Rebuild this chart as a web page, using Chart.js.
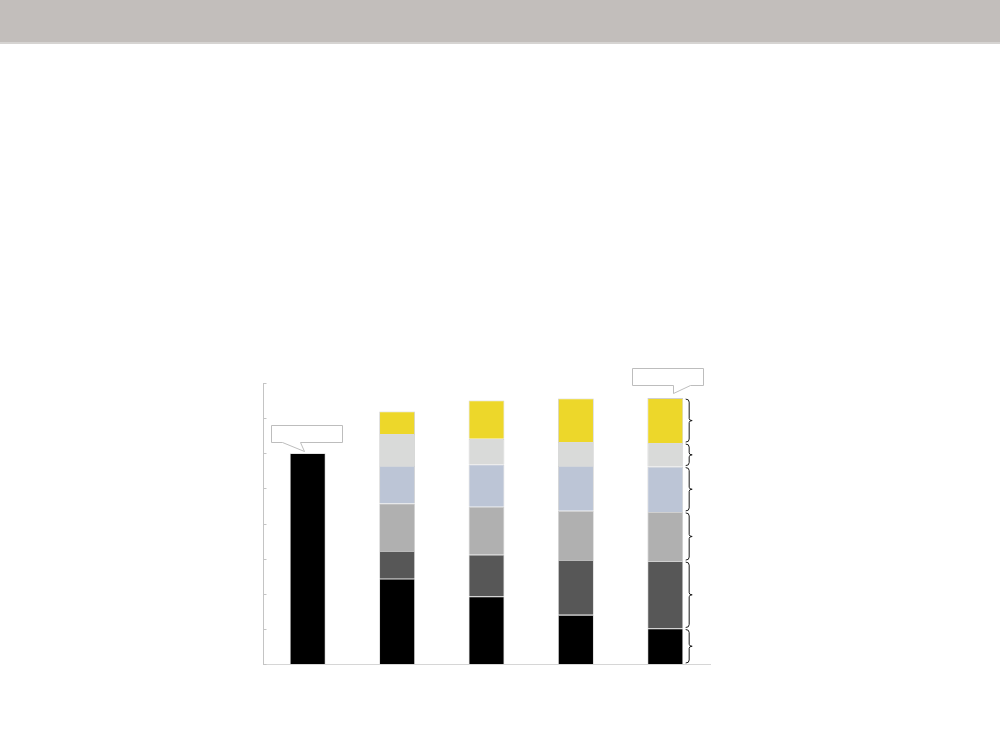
<!DOCTYPE html>
<html>
<head>
<meta charset="utf-8">
<script src="https://cdn.jsdelivr.net/npm/chart.js@4/dist/chart.umd.min.js"></script>
<style>
  html, body { margin: 0; padding: 0; background: #fff; }
  body { width: 1000px; height: 750px; position: relative; overflow: hidden; font-family: "Open Sans", sans-serif; }
  .topbar { position: absolute; left: 0; top: 0; width: 1000px; height: 42px; background: #c2bebb; border-bottom: 2px solid #d6d4d2; }
  #wrap { position: absolute; left: 0; top: 0; width: 1000px; height: 750px; }
</style>
</head>
<body>
<div class="topbar"></div>
<div id="wrap"><canvas id="stackChart"></canvas></div>
<script>
/* ── Data ─────────────────────────────────────── */
const categories = ['Base', 'Step 1', 'Step 2', 'Step 3', 'Step 4'];
const yTicks     = [0, 1, 2, 3, 4, 5, 6, 7, 8];

const segBase   = [6.00, 2.43, 1.92, 1.40, 1.01];
const segDark   = [null, 0.79, 1.19, 1.56, 1.92];
const segMid    = [null, 1.35, 1.37, 1.40, 1.40];
const segBlue   = [null, 1.07, 1.20, 1.28, 1.29];
const segLight  = [null, 0.91, 0.73, 0.68, 0.67];
const segYellow = [null, 0.64, 1.09, 1.24, 1.28];

/* ── Palette ──────────────────────────────────── */
const C_BLACK  = '#000000';
const C_DARK   = '#575757';
const C_MID    = '#b0b0b0';
const C_BLUE   = '#bcc5d6';
const C_LIGHT  = '#d9dad9';
const C_YELLOW = '#edd72a';
const C_AXIS   = '#c4c4c4';
const C_EDGE   = '#cfcfcf';

function seg(data, color) {
  return {
    data,
    backgroundColor: color,
    borderColor: C_EDGE,
    borderWidth: 0.8,
    barPercentage: 0.4,
    categoryPercentage: 1,
  };
}

/* ── Inward ticks on y axis ───────────────────── */
const innerTicks = {
  id: 'innerTicks',
  afterDraw(chart) {
    const { ctx, chartArea, scales: { y } } = chart;
    ctx.save();
    ctx.strokeStyle = C_AXIS;
    ctx.lineWidth = 1;
    yTicks.forEach(v => {
      const py = Math.round(y.getPixelForValue(v)) + 0.5;
      ctx.beginPath();
      ctx.moveTo(chartArea.left, py);
      ctx.lineTo(chartArea.left + 3.5, py);
      ctx.stroke();
    });
    ctx.restore();
  },
};

/* ── Curly braces beside the last bar ─────────── */
const braces = {
  id: 'braces',
  afterDatasetsDraw(chart) {
    const { ctx } = chart;
    const last = categories.length - 1;
    ctx.save();
    ctx.strokeStyle = '#1a1a1a';
    ctx.lineWidth = 1;
    chart.data.datasets.forEach((ds, i) => {
      const bar = chart.getDatasetMeta(i).data[last];
      if (!bar || ds.data[last] == null) return;
      const top = bar.y + 1, bot = bar.base - 1;
      const x0 = bar.x + bar.width / 2 + 2.5;
      const x1 = x0 + 3.5;
      const mid = (top + bot) / 2;
      ctx.beginPath();
      ctx.moveTo(x0, top);
      ctx.quadraticCurveTo(x1, top, x1, top + 3);
      ctx.lineTo(x1, mid - 2);
      ctx.quadraticCurveTo(x1, mid, x1 + 3, mid);
      ctx.quadraticCurveTo(x1, mid, x1, mid + 2);
      ctx.lineTo(x1, bot - 3);
      ctx.quadraticCurveTo(x1, bot, x0, bot);
      ctx.stroke();
    });
    ctx.restore();
  },
};

/* ── Empty speech-bubble callouts ─────────────── */
function bubble(ctx, l, t, r, b, p1, p2, tip) {
  ctx.beginPath();
  ctx.moveTo(l, t);
  ctx.lineTo(r, t);
  ctx.lineTo(r, b);
  ctx.lineTo(p2, b);
  ctx.lineTo(tip[0], tip[1]);
  ctx.lineTo(p1, b);
  ctx.lineTo(l, b);
  ctx.closePath();
  ctx.fillStyle = '#ffffff';
  ctx.fill();
  ctx.stroke();
}

const callouts = {
  id: 'callouts',
  afterDraw(chart) {
    const { ctx } = chart;
    const n = chart.data.datasets.length;
    const first = chart.getDatasetMeta(0).data[0];
    const lastBar = chart.getDatasetMeta(n - 1).data[categories.length - 1];
    ctx.save();
    ctx.strokeStyle = '#bdbdbd';
    ctx.lineWidth = 1;
    let x = Math.round(first.x) + 0.5, y = Math.round(first.y) + 0.5;
    bubble(ctx, x - 37, y - 28, x + 34, y - 11, x - 26, x - 8, [x - 4, y - 2]);
    x = Math.round(lastBar.x) + 0.5; y = Math.round(lastBar.y) + 0.5;
    bubble(ctx, x - 33, y - 30, x + 38, y - 13, x + 8, x + 25, [x + 8, y - 5]);
    ctx.restore();
  },
};

/* ── Chart ────────────────────────────────────── */
new Chart(document.getElementById('stackChart'), {
  type: 'bar',
  data: {
    labels: categories,
    datasets: [
      seg(segBase, C_BLACK),
      seg(segDark, C_DARK),
      seg(segMid, C_MID),
      seg(segBlue, C_BLUE),
      seg(segLight, C_LIGHT),
      seg(segYellow, C_YELLOW),
    ],
  },
  options: {
    responsive: true,
    maintainAspectRatio: false,
    animation: false,
    layout: { padding: { left: 263, right: 290, top: 383, bottom: 86 } },
    plugins: { legend: { display: false }, tooltip: { enabled: false } },
    scales: {
      x: {
        stacked: true,
        ticks: { display: false },
        grid: { display: false, drawTicks: false },
        border: { display: true, color: '#d6d6d6', width: 1 },
      },
      y: {
        stacked: true,
        min: 0, max: 8,
        afterBuildTicks: axis => { axis.ticks = yTicks.map(v => ({ value: v })); },
        ticks: { display: false },
        grid: { display: false, drawTicks: false },
        border: { display: true, color: C_AXIS, width: 1 },
      },
    },
  },
  plugins: [innerTicks, braces, callouts],
});
</script>
</body>
</html>
